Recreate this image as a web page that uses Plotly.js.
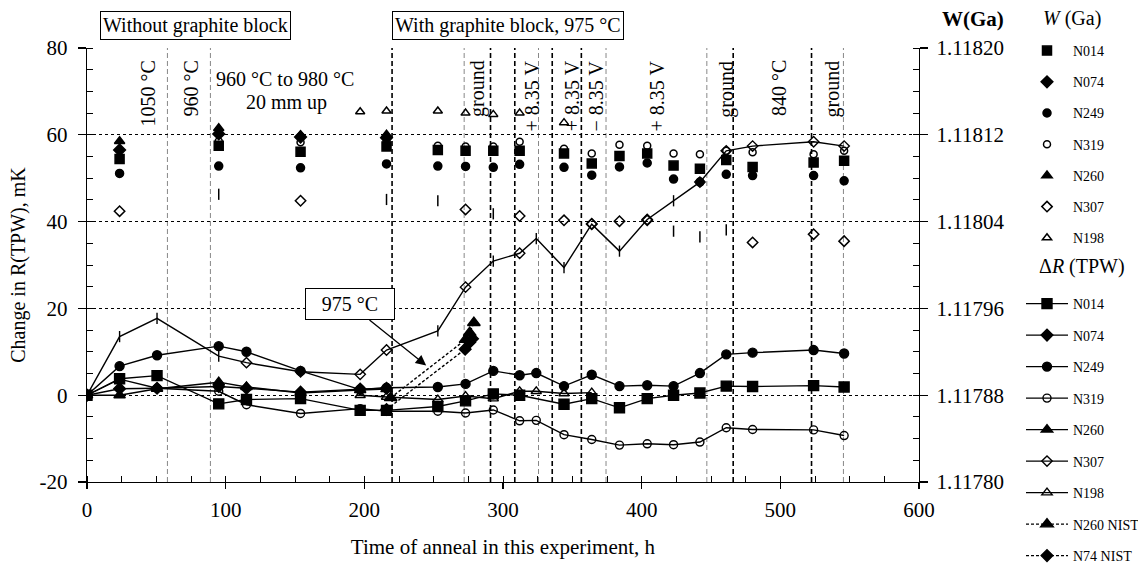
<!DOCTYPE html>
<html>
<head>
<meta charset="utf-8">
<script src="https://cdn.plot.ly/plotly-3.0.1.min.js"></script>
<style>html,body{margin:0;padding:0;background:#fff;}#chart{width:1138px;height:565px;}</style>
</head>
<body>
<div id="chart"></div>
<script>
// ---------------- DATA ----------------
// Delta R(TPW), mK, for each cell
const tAll   = [0, 23.5, 50.5, 95, 115, 154, 197, 216, 253, 273, 293, 312, 324, 344, 364, 384, 404, 423, 442, 461, 480, 524, 546];
const tEarly = [0, 23.5, 50.5, 95, 115, 154, 197, 216];
const tN014  = [0, 23.5, 50.5, 95, 115, 154, 197, 216, 253, 273, 293, 312, 344, 364, 384, 404, 423, 442, 461, 480, 524, 546];
const tN198  = [197, 216, 253, 273, 293, 312, 324, 344, 364];

const dR_N014 = [0, 3.8, 4.5, -2.0, -1.0, -0.8, -3.5, -3.5, -2.6, -1.3, 0.3, 0.0, -2.1, -0.8, -2.9, -0.8, 0.0, 0.5, 2.1, 2.0, 2.2, 1.9];
const dR_N074 = [0, 1.5, 1.6, 2.0, 1.6, 0.7, 1.4, 1.6];
const dR_N249 = [0, 6.7, 9.2, 11.3, 10.0, 5.6, 1.3, 1.7, 1.9, 2.6, 5.6, 4.6, 5.1, 2.1, 4.7, 2.1, 2.3, 2.1, 5.1, 9.4, 9.8, 10.4, 9.6];
const dR_N319 = [0, 3.7, 1.6, 0.9, -2.2, -4.2, -3.1, -3.7, -3.7, -4.1, -3.4, -5.9, -5.8, -9.1, -10.2, -11.5, -11.2, -11.4, -10.8, -7.5, -7.9, -8.0, -9.3];
const dR_N260 = [0, 0, 1.5, 3.0, 1.9, 0.5, 1.2, 1.4];
const dR_N307 = [0, 13.5, 17.7, 9.0, 7.5, 5.4, 4.8, 10.4, 14.8, 24.9, 30.9, 32.7, 36.1, 29.4, 39.4, 33.2, 40.5, 44.8, 49.1, 56.3, 57.4, 58.4, 57.4];
const dR_N198 = [0, -0.4, -1.0, -0.2, -0.8, 0.9, 0.9, 0.4, 0.6];

const tN260NIST = [219, 273, 276, 279];
const dR_N260NIST = [-0.6, 12.8, 14.4, 16.7];
const tN74NIST = [216, 272.7, 276, 278];
const dR_N74NIST = [-3.3, 10.6, 12.2, 13.0];

// W(Ga) values
const tW      = [23.5, 95, 154, 216, 253, 273, 293, 312, 344, 364, 384, 404, 423, 442, 461, 480, 524, 546];
const tWearly = [23.5, 95, 154, 216];
const tWN198  = [197, 216, 253, 273, 293, 312, 344];

const W_N014 = [1.1180976, 1.1181100, 1.1181044, 1.1181092, 1.1181060, 1.1181052, 1.1181052, 1.1181052, 1.1181028, 1.1180936, 1.1181004, 1.1181028, 1.1180916, 1.1180888, 1.1180968, 1.1180904, 1.1180944, 1.1180960];
const W_N074 = [1.1181060, 1.1181208, 1.1181180, 1.1181172];
const W_N249 = [1.1180844, 1.1180912, 1.1180896, 1.1180932, 1.1180912, 1.1180908, 1.1180900, 1.1180928, 1.1180900, 1.1180828, 1.1180904, 1.1180940, 1.1180792, 1.1180764, 1.1180836, 1.1180824, 1.1180824, 1.1180776];
const W_N319 = [1.1180988, 1.1181140, 1.1181132, 1.1181136, 1.1181100, 1.1181092, 1.1181092, 1.1181136, 1.1181072, 1.1181028, 1.1181108, 1.1181100, 1.1181028, 1.1181020, 1.1181052, 1.1181040, 1.1181020, 1.1181052];
const W_N260 = [1.1181140, 1.1181260, 1.1181196, 1.1181200];
const W_N307 = [1.1180496, 1.1180652, 1.1180592, 1.1180604, 1.1180592, 1.1180512, 1.1180472, 1.1180452, 1.1180412, 1.1180380, 1.1180404, 1.1180412, 1.1180312, 1.1180260, 1.1180324, 1.1180208, 1.1180284, 1.1180220];
const W_N198 = [1.1181412, 1.1181420, 1.1181420, 1.1181400, 1.1181388, 1.1181400, 1.1181312];

// tick labels and event annotations
const yTickVals = [-20, 0, 20, 40, 60, 80];
const yTickText = ['-20', '0', '20', '40', '60', '80'];
const eventLabels = ['1050 °C', '960 °C', 'ground', '+ 8.35 V', '+ 8.35 V', '\u2212 8.35 V', '+ 8.35 V', 'ground', '840 °C', 'ground'];
const eventTimes  = [44, 75, 282, 320.6, 350, 366.8, 410.7, 461.4, 499.5, 537.6];
const boldEventTimes = [220, 291, 308.5, 335.5, 356.5, 466, 522.5];
const thinEventTimes = [58, 89, 272, 325.6, 374.3, 447, 545.5];

// ---------------- STYLE ----------------
const FONT = 'Liberation Serif, "Times New Roman", serif';
const I = 'line-ns', D = 'diamond-open';
const symN307R = [D, I, I, I, D, D, D, D, I, D, I, D, I, I, D, I, D, I, D, D, D, D, D];
const symN307W = [D, I, D, I, I, D, I, D, D, D, D, D, I, I, I, D, D, D];

function wTrace(name, x, y, symbol, size) {
  return {
    x: x, y: y, name: name, type: 'scatter', mode: 'markers', yaxis: 'y2',
    legend: 'legend', legendgroup: 'w_' + name,
    marker: {symbol: symbol, size: size, color: 'black', line: {color: 'black', width: 1.5}},
    hoverinfo: 'x+y'
  };
}
function rTrace(name, x, y, symbol, size, dash) {
  return {
    x: x, y: y, name: name, type: 'scatter', mode: 'lines+markers', yaxis: 'y',
    legend: 'legend2', legendgroup: 'r_' + name,
    line: {color: 'black', width: 1.4, dash: dash || 'solid'},
    marker: {symbol: symbol, size: size, color: 'black', line: {color: 'black', width: 1.4}},
    hoverinfo: 'x+y'
  };
}

const traces = [
  wTrace('N014', tW, W_N014, 'square', 9),
  wTrace('N074', tWearly, W_N074, 'diamond', 9),
  wTrace('N249', tW, W_N249, 'circle', 8),
  wTrace('N319', tW, W_N319, 'circle-open', 7),
  wTrace('N260', tWearly, W_N260, 'triangle-up', 9),
  wTrace('N307', tW, W_N307, symN307W, 8),
  wTrace('N198', tWN198, W_N198, 'triangle-up-open', 8),
  rTrace('N014', tN014, dR_N014, 'square', 10),
  rTrace('N074', tEarly, dR_N074, 'diamond', 9),
  rTrace('N249', tAll, dR_N249, 'circle', 9),
  rTrace('N319', tAll, dR_N319, 'circle-open', 8),
  rTrace('N260', tEarly, dR_N260, 'triangle-up', 10),
  rTrace('N307', tAll, dR_N307, symN307R, 8),
  rTrace('N198', tN198, dR_N198, 'triangle-up-open', 9),
  rTrace('N260 NIST', tN260NIST, dR_N260NIST, 'triangle-up', 11, '3px,2px'),
  rTrace('N74 NIST', tN74NIST, dR_N74NIST, 'diamond', 9, '3px,2px')
];

const shapes = [];
boldEventTimes.forEach(t => shapes.push({type: 'line', xref: 'x', yref: 'paper', x0: t, x1: t, y0: 0, y1: 1,
  layer: 'below', line: {color: 'black', width: 1.6, dash: '5px,3px'}}));
thinEventTimes.forEach(t => shapes.push({type: 'line', xref: 'x', yref: 'paper', x0: t, x1: t, y0: 0, y1: 1,
  layer: 'below', line: {color: '#888', width: 1, dash: '5px,3px'}}));

const txtFont = {family: FONT, size: 20, color: 'black'};
const annotations = [];
eventLabels.forEach((txt, i) => annotations.push({
  text: txt, x: eventTimes[i], xref: 'x', y: 77.6, yref: 'y', yanchor: 'top', xanchor: 'center',
  textangle: -90, showarrow: false, font: txtFont
}));
annotations.push(
  {text: '960 °C to 980 °C', x: 143, xref: 'x', y: 72.8, yref: 'y', xanchor: 'center', yanchor: 'middle', showarrow: false, font: txtFont},
  {text: '20 mm up', x: 143.8, xref: 'x', y: 67.5, yref: 'y', xanchor: 'center', yanchor: 'middle', showarrow: false, font: txtFont},
  {text: 'Without graphite block', x: 78, xref: 'x', y: 1.051, yref: 'paper', xanchor: 'center', yanchor: 'middle', showarrow: false,
   bordercolor: 'black', borderwidth: 1, borderpad: 2, bgcolor: 'white', font: txtFont},
  {text: 'With graphite block, 975 °C', x: 303.5, xref: 'x', y: 1.051, yref: 'paper', xanchor: 'center', yanchor: 'middle', showarrow: false,
   bordercolor: 'black', borderwidth: 1, borderpad: 2, bgcolor: 'white', font: txtFont},
  {text: '975 °C', x: 244.6, xref: 'x', y: 6.85, yref: 'y', ax: -76, ay: -61, showarrow: true,
   arrowhead: 2, arrowsize: 1.6, arrowwidth: 1.3, arrowcolor: 'black', width: 80, height: 22,
   bordercolor: 'black', borderwidth: 1, borderpad: 4, bgcolor: 'white', font: txtFont},
  {text: '<b>W(Ga)</b>', x: 1.0655, xref: 'paper', y: 1.066, yref: 'paper', xanchor: 'center', yanchor: 'middle', showarrow: false,
   font: {family: FONT, size: 21, color: 'black'}},
  // legend section headers
  {text: '<i>W</i> (Ga)', x: 1.1835, xref: 'paper', y: 1.069, yref: 'paper', xanchor: 'center', yanchor: 'middle', showarrow: false,
   font: {family: FONT, size: 20, color: 'black'}},
  {text: '\u0394<i>R</i> (TPW)', x: 1.1965, xref: 'paper', y: 0.496, yref: 'paper', xanchor: 'center', yanchor: 'middle', showarrow: false,
   font: {family: FONT, size: 20, color: 'black'}}
);

const legendBase = {
  xref: 'container', yref: 'container', x: 1021 / 1138, xanchor: 'left', yanchor: 'top',
  font: {family: FONT, size: 14, color: 'black'},
  tracegroupgap: 10, itemwidth: 42, bgcolor: 'rgba(0,0,0,0)', borderwidth: 0, maxheight: 600
};

const layout = {
  width: 1138, height: 565,
  margin: {l: 87, r: 219, t: 48, b: 83},
  paper_bgcolor: 'white', plot_bgcolor: 'white',
  font: {family: FONT, color: 'black'},
  showlegend: true,
  legend: Object.assign({}, legendBase, {y: 1 - 35 / 565}),
  legend2: Object.assign({}, legendBase, {y: 1 - 288 / 565, tracegroupgap: 10.3}),
  xaxis: {
    range: [0, 600], dtick: 100, tick0: 0, showgrid: false, zeroline: false,
    showline: true, linecolor: 'black', linewidth: 1.3,
    ticks: 'outside', ticklen: 6, tickwidth: 1.3, tickcolor: 'black',
    minor: {dtick: 25, tick0: 0, ticks: 'inside', ticklen: 6, tickwidth: 1, tickcolor: 'black', showgrid: false},
    tickfont: {family: FONT, size: 21, color: 'black'}, ticklabelstandoff: 2,
    title: {text: 'Time of anneal in this experiment, h', font: {family: FONT, size: 21, color: 'black'}, standoff: 18}
  },
  yaxis: {
    range: [-20, 80], tickmode: 'array', tickvals: yTickVals, ticktext: yTickText,
    showgrid: true, gridcolor: 'black', griddash: 'dot', gridwidth: 1.2, zeroline: false,
    showline: true, linecolor: 'black', linewidth: 1.3,
    ticks: 'outside', ticklen: 8, tickwidth: 1.3, tickcolor: 'black',
    minor: {dtick: 5, tick0: 0, ticks: 'inside', ticklen: 6, tickwidth: 1, tickcolor: 'black', showgrid: false},
    tickfont: {family: FONT, size: 21, color: 'black'}, ticklabelstandoff: 6,
    title: {text: 'Change in R(TPW), mK', font: {family: FONT, size: 20, color: 'black'}, standoff: 8}
  },
  yaxis2: {
    overlaying: 'y', side: 'right', range: [1.1178, 1.1182], tick0: 1.1178, dtick: 0.00008, tickformat: '.5f',
    showgrid: false, zeroline: false, showline: true, linecolor: 'black', linewidth: 1.3,
    ticks: 'outside', ticklen: 8, tickwidth: 1.3, tickcolor: 'black',
    minor: {dtick: 0.00002, tick0: 1.1178, ticks: 'inside', ticklen: 6, tickwidth: 1, tickcolor: 'black', showgrid: false},
    tickfont: {family: FONT, size: 21, color: 'black'}, ticklabelstandoff: 4
  },
  shapes: shapes,
  annotations: annotations
};

Plotly.newPlot('chart', traces, layout, {displayModeBar: false, staticPlot: true});
</script>
</body>
</html>
